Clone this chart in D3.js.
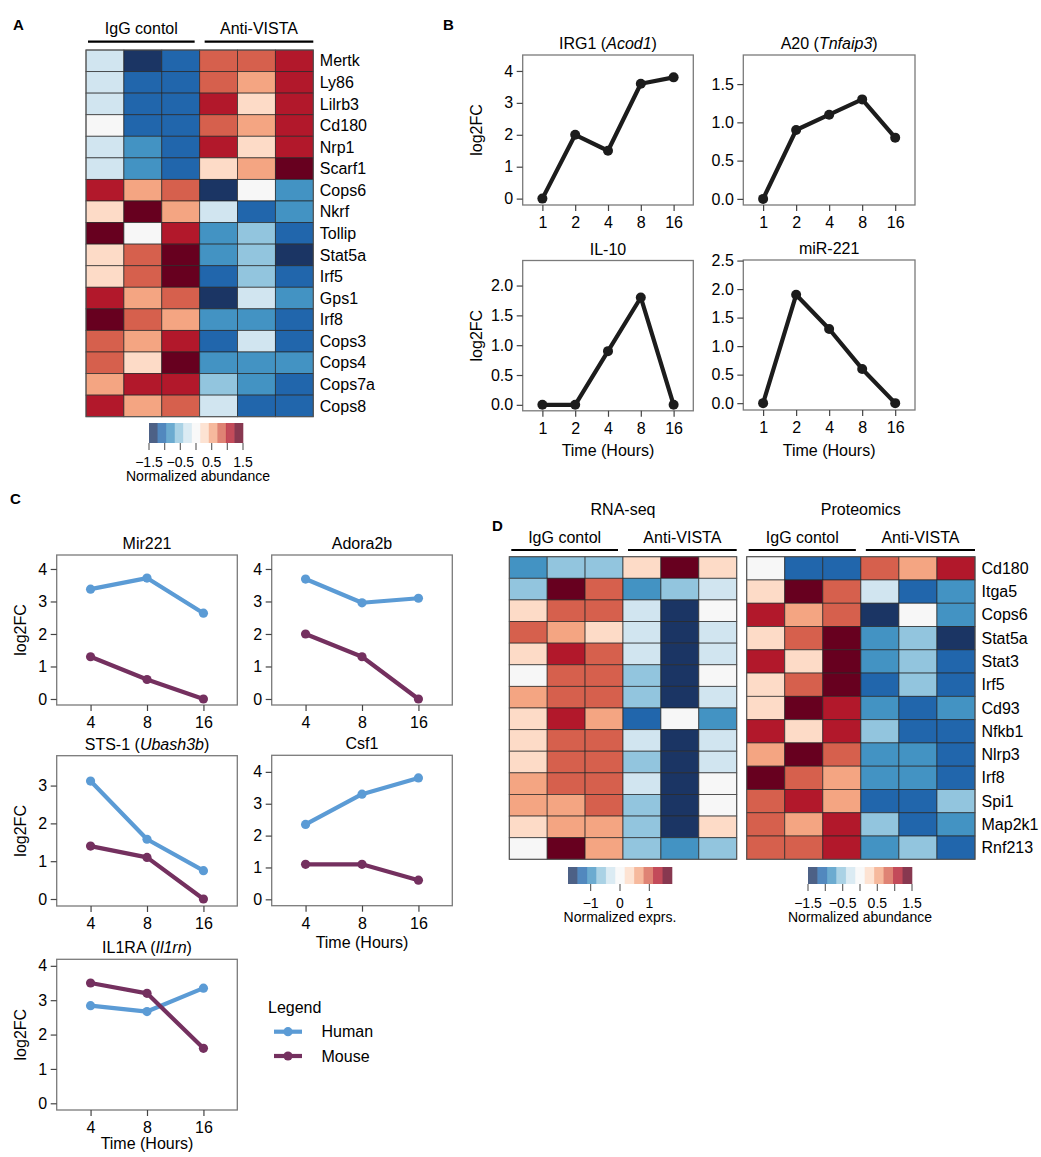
<!DOCTYPE html>
<html><head><meta charset="utf-8">
<script src="https://cdn.jsdelivr.net/npm/d3@7"></script>
<style>
body{margin:0;background:#fff}
svg{display:block}
text{font-family:"Liberation Sans",Arial,Helvetica,sans-serif;fill:#000}
</style>
</head><body>
<svg id="fig" width="1041" height="1157"></svg>
<script>
// ---------------- DATA ----------------
const samples = ["IgG 1","IgG 2","IgG 3","Anti-VISTA 1","Anti-VISTA 2","Anti-VISTA 3"];
const groupNames = ["IgG contol","Anti-VISTA"];
const palette = ["#1b3564","#2166ac","#4393c3","#92c5de","#d1e5f0","#f7f7f7","#fddbc7","#f4a582","#d6604d","#b2182b","#67001f"];

// Panel A (normalized abundance)
const genesA = ["Mertk","Ly86","Lilrb3","Cd180","Nrp1","Scarf1","Cops6","Nkrf","Tollip","Stat5a","Irf5","Gps1","Irf8","Cops3","Cops4","Cops7a","Cops8"];
const valuesA = [
  [-0.3,-1.4,-1.1,0.8,0.8,1.1],
  [-0.3,-1.1,-1.1,0.8,0.55,1.1],
  [-0.3,-1.1,-1.1,1.1,0.3,1.1],
  [0,-1.1,-1.1,0.8,0.55,1.1],
  [-0.3,-0.8,-1.1,1.1,0.3,1.1],
  [-0.3,-0.8,-1.1,0.3,0.55,1.4],
  [1.1,0.55,0.8,-1.4,0,-0.8],
  [0.3,1.4,0.55,-0.3,-1.1,-0.8],
  [1.4,0,1.1,-0.8,-0.55,-1.1],
  [0.3,0.8,1.4,-0.8,-0.55,-1.4],
  [0.3,0.8,1.4,-1.1,-0.55,-1.1],
  [1.1,0.55,0.8,-1.4,-0.3,-0.8],
  [1.4,0.8,0.55,-0.8,-0.8,-1.1],
  [0.8,0.55,1.1,-1.1,-0.3,-1.1],
  [0.8,0.3,1.4,-0.8,-0.8,-0.8],
  [0.55,1.1,1.1,-0.55,-0.8,-1.1],
  [1.1,0.55,0.8,-0.3,-1.1,-1.1]
];
const abundanceTicks = [-1.5,-1,-0.5,0,0.5,1,1.5];
const abundanceLabels = [-1.5,-0.5,0.5,1.5];

// Panel D RNA-seq (normalized exprs.)
const valuesRNA = [
  [-1.0,-0.65,-0.65,0.3,1.6,0.3],
  [-0.65,1.6,1.0,-1.0,-0.65,-0.3],
  [0.3,1.0,1.0,-0.3,-1.6,0],
  [1.0,0.65,0.3,-0.3,-1.6,-0.3],
  [0.3,1.3,1.0,-0.3,-1.6,-0.3],
  [0,1.0,1.0,-0.65,-1.6,0],
  [0.65,1.0,1.0,-0.65,-1.6,-0.3],
  [0.3,1.3,0.65,-1.3,0,-1.0],
  [0.3,1.0,1.0,-0.3,-1.6,-0.3],
  [0.3,1.0,1.0,-0.65,-1.6,-0.3],
  [0.65,1.0,1.0,-0.3,-1.6,0],
  [0.65,0.65,1.0,-0.65,-1.6,0],
  [0.3,0.65,0.65,-0.65,-1.6,0.3],
  [0,1.6,0.65,-0.65,-1.0,-0.65]
];
const exprsTicks = [-1,0,1];

// Panel D Proteomics
const genesProt = ["Cd180","Itga5","Cops6","Stat5a","Stat3","Irf5","Cd93","Nfkb1","Nlrp3","Irf8","Spi1","Map2k1","Rnf213"];
const valuesProt = [
  [0,-1.1,-1.1,0.8,0.55,1.1],
  [0.3,1.4,0.8,-0.3,-1.1,-0.8],
  [1.1,0.55,0.8,-1.4,0,-0.8],
  [0.3,0.8,1.4,-0.8,-0.55,-1.4],
  [1.1,0.3,1.4,-0.8,-0.55,-1.1],
  [0.3,0.8,1.4,-1.1,-0.55,-1.1],
  [0.3,1.4,1.1,-0.8,-1.1,-0.8],
  [1.1,0.3,1.1,-0.55,-1.1,-1.1],
  [0.55,1.4,0.8,-0.8,-0.8,-1.1],
  [1.4,0.8,0.55,-0.8,-0.8,-1.1],
  [0.8,1.1,0.55,-1.1,-1.1,-0.55],
  [0.8,0.55,1.1,-0.55,-1.1,-0.8],
  [0.8,0.8,1.1,-0.8,-0.55,-1.1]
];

// Panel B time courses
const timesB = ["1","2","4","8","16"];
const irg1 = [0,2,1.5,3.6,3.8];
const a20 = [0,0.9,1.1,1.3,0.8];
const il10 = [0,0,0.9,1.8,0];
const mir221B = [0,1.9,1.3,0.6,0];

// Panel C human vs mouse
const timesC = ["4","8","16"];
const speciesNames = ["Human","Mouse"];
const speciesColors = ["#5b9bd5","#74305f"];
const mir221Human = [3.38,3.72,2.64];
const mir221Mouse = [1.3,0.6,0];
const adora2bHuman = [3.69,2.96,3.1];
const adora2bMouse = [2.0,1.3,0];
const sts1Human = [3.12,1.58,0.75];
const sts1Mouse = [1.4,1.1,0];
const csf1Human = [2.35,3.3,3.81];
const csf1Mouse = [1.1,1.1,0.6];
const il1raHuman = [2.84,2.67,3.35];
const il1raMouse = [3.5,3.2,1.6];

// ---------------- DRAWING ----------------
const svg = d3.select("#fig");
const FS = 16;

function panelLabel(t, x, y){
  svg.append("text").attr("x",x).attr("y",y).attr("font-size",15).attr("font-weight","bold").text(t);
}

function richText(sel, parts){
  parts.forEach(p=>{
    const ts = sel.append("tspan").text(p[0]);
    if(p[1]) ts.attr("font-style","italic");
  });
}

function heatmap(o){
  const g = svg.append("g");
  const x = d3.scaleBand().domain(samples).range([o.left, o.right]);
  const rows = d3.range(o.vals.length);
  const y = d3.scaleBand().domain(rows).range([o.top, o.bottom]);
  const color = d3.scaleQuantize().domain(o.domain).range(palette);
  rows.forEach(r=>{
    samples.forEach((s,c)=>{
      g.append("rect").attr("x",x(s)).attr("y",y(r))
        .attr("width",x.bandwidth()).attr("height",y.bandwidth())
        .attr("fill",color(o.vals[r][c]))
        .attr("stroke","#262626").attr("stroke-opacity",0.75).attr("stroke-width",0.9);
    });
  });
  g.append("rect").attr("x",o.left).attr("y",o.top).attr("width",o.right-o.left).attr("height",o.bottom-o.top)
    .attr("fill","none").attr("stroke","#555").attr("stroke-width",1);
  if(o.labels){
    o.labels.forEach((l,r)=>{
      g.append("text").attr("x",o.right+6.5).attr("y",y(r)+y.bandwidth()/2).attr("dy","0.35em")
        .attr("font-size",FS).text(l);
    });
  }
  // group headers
  const bw = x.bandwidth();
  const grp = [
    [x(samples[0])+2, x(samples[2])+bw-5],
    [x(samples[3])+5, x(samples[5])+bw]
  ];
  grp.forEach((gx,i)=>{
    g.append("line").attr("x1",gx[0]).attr("x2",gx[1]).attr("y1",o.top-o.lineOff).attr("y2",o.top-o.lineOff)
      .attr("stroke","#000").attr("stroke-width",2.2);
    g.append("text").attr("x",(gx[0]+gx[1])/2).attr("y",o.top-o.textOff).attr("text-anchor","middle")
      .attr("font-size",FS).text(groupNames[i]);
  });
  if(o.title){
    g.append("text").attr("x",(o.left+o.right)/2).attr("y",o.top-42).attr("text-anchor","middle")
      .attr("font-size",FS).text(o.title);
  }
}

function colorLegend(o){
  const g = svg.append("g");
  const x = d3.scaleLinear().domain(o.domain).range([o.x0,o.x1]);
  const n = palette.length;
  const step = (o.domain[1]-o.domain[0])/n;
  palette.forEach((c,i)=>{
    const a = o.domain[0]+i*step;
    g.append("rect").attr("x",x(a)).attr("y",o.y0).attr("width",x(a+step)-x(a)+0.3).attr("height",o.y1-o.y0)
      .attr("fill",c).attr("fill-opacity",0.78);
  });
  o.ticks.forEach(t=>{
    g.append("line").attr("x1",x(t)).attr("x2",x(t)).attr("y1",o.y1).attr("y2",o.y1+7)
      .attr("stroke","#666").attr("stroke-width",1.2);
  });
  const fmt = o.fmt;
  o.labels.forEach(t=>{
    g.append("text").attr("x",x(t)).attr("y",o.y1+24).attr("text-anchor","middle").attr("font-size",14).text(fmt(t));
  });
  g.append("text").attr("x",(o.x0+o.x1)/2+o.titleShift).attr("y",o.y1+38).attr("text-anchor","middle")
    .attr("font-size",14).text(o.title);
}

function linePlot(o){
  const g = svg.append("g");
  const x = d3.scalePoint().domain(o.cats).range([o.left,o.left+o.w]).padding(0.6);
  const y = d3.scaleLinear().domain(o.ydom).range([o.top+o.h,o.top]);
  g.append("rect").attr("x",o.left).attr("y",o.top).attr("width",o.w).attr("height",o.h)
    .attr("fill","none").attr("stroke","#7a7a7a").attr("stroke-width",1.3);
  const ya = g.append("g").attr("transform",`translate(${o.left},0)`)
    .call(d3.axisLeft(y).tickValues(o.yticks).tickFormat(o.fmt).tickSize(6).tickPadding(3.5));
  const xa = g.append("g").attr("transform",`translate(0,${o.top+o.h})`)
    .call(d3.axisBottom(x).tickSize(6).tickPadding(5.5));
  [ya,xa].forEach(a=>{
    a.select(".domain").remove();
    a.selectAll(".tick line").attr("stroke","#444").attr("stroke-width",1.2);
    a.selectAll(".tick text").attr("font-size",FS).attr("fill","#000")
      .attr("font-family",'"Liberation Sans",Arial,Helvetica,sans-serif');
  });
  const t = g.append("text").attr("x",o.left+o.w/2).attr("y",o.top-6).attr("text-anchor","middle").attr("font-size",FS);
  richText(t,o.title);
  if(o.ylabX!==undefined){
    g.append("text").attr("transform",`translate(${o.ylabX},${o.top+o.h/2}) rotate(-90)`)
      .attr("text-anchor","middle").attr("dy","0.35em").attr("font-size",FS).text("log2FC");
  }
  if(o.xTitleY!==undefined){
    g.append("text").attr("x",o.left+o.w/2).attr("y",o.xTitleY).attr("text-anchor","middle")
      .attr("font-size",FS).text("Time (Hours)");
  }
  const line = d3.line().x((d,i)=>x(o.cats[i])).y(d=>y(d));
  o.series.forEach(s=>{
    g.append("path").datum(s.values).attr("d",line).attr("fill","none")
      .attr("stroke",s.color).attr("stroke-width",4.2).attr("stroke-linejoin","round").attr("stroke-linecap","round");
    s.values.forEach((v,i)=>{
      g.append("circle").attr("cx",x(o.cats[i])).attr("cy",y(v)).attr("r",s.r).attr("fill",s.color);
    });
  });
}

// ---- Panel A ----
panelLabel("A",13,30);
heatmap({left:86,right:313.3,top:50,bottom:416.7,vals:valuesA,labels:genesA,domain:[-1.5,1.5],lineOff:8.3,textOff:16});
colorLegend({x0:149,x1:243,y0:423,y1:443,domain:[-1.5,1.5],ticks:abundanceTicks,labels:abundanceLabels,
  fmt:d3.format(".1f"),title:"Normalized abundance",titleShift:2});

// ---- Panel B ----
panelLabel("B",443,30);
const black = "#1c1c1c";
linePlot({left:522.7,top:55,w:170.6,h:150,cats:timesB,ydom:[-0.2,4.5],yticks:[0,1,2,3,4],fmt:d3.format("d"),
  title:[["IRG1 (",false],["Acod1",true],[")",false]],ylabX:476.7,series:[{values:irg1,color:black,r:5}]});
linePlot({left:743.3,top:55,w:171.7,h:150,cats:timesB,ydom:[-0.08,1.88],yticks:[0,0.5,1,1.5],fmt:d3.format(".1f"),
  title:[["A20 (",false],["Tnfaip3",true],[")",false]],series:[{values:a20,color:black,r:5}]});
linePlot({left:522.7,top:260.5,w:170.6,h:150.3,cats:timesB,ydom:[-0.1,2.42],yticks:[0,0.5,1,1.5,2],fmt:d3.format(".1f"),
  title:[["IL-10",false]],ylabX:476.7,xTitleY:456,series:[{values:il10,color:black,r:5}]});
linePlot({left:743.3,top:260,w:171.7,h:150,cats:timesB,ydom:[-0.12,2.51],yticks:[0,0.5,1,1.5,2,2.5],fmt:d3.format(".1f"),
  title:[["miR-221",false]],xTitleY:456,series:[{values:mir221B,color:black,r:5}]});

// ---- Panel C ----
panelLabel("C",10,504);
function sp(h,m){return [{values:h,color:speciesColors[0],r:4.6},{values:m,color:speciesColors[1],r:4.6}];}
linePlot({left:56.7,top:555,w:180.6,h:150,cats:timesC,ydom:[-0.185,4.43],yticks:[0,1,2,3,4],fmt:d3.format("d"),
  title:[["Mir221",false]],ylabX:20,series:sp(mir221Human,mir221Mouse)});
linePlot({left:271.7,top:555,w:180.6,h:150,cats:timesC,ydom:[-0.185,4.43],yticks:[0,1,2,3,4],fmt:d3.format("d"),
  title:[["Adora2b",false]],series:sp(adora2bHuman,adora2bMouse)});
linePlot({left:56.7,top:755.7,w:180.6,h:150.3,cats:timesC,ydom:[-0.185,3.79],yticks:[0,1,2,3],fmt:d3.format("d"),
  title:[["STS-1 (",false],["Ubash3b",true],[")",false]],ylabX:20,series:sp(sts1Human,sts1Mouse)});
linePlot({left:271.7,top:755.3,w:180.6,h:150.4,cats:timesC,ydom:[-0.2,4.52],yticks:[0,1,2,3,4],fmt:d3.format("d"),
  title:[["Csf1",false]],xTitleY:948,series:sp(csf1Human,csf1Mouse)});
linePlot({left:56.7,top:959.3,w:180.6,h:150.7,cats:timesC,ydom:[-0.195,4.19],yticks:[0,1,2,3,4],fmt:d3.format("d"),
  title:[["IL1RA (",false],["Il1rn",true],[")",false]],ylabX:20,xTitleY:1149,series:sp(il1raHuman,il1raMouse)});

// legend C
const lg = svg.append("g");
lg.append("text").attr("x",268).attr("y",1013).attr("font-size",FS).text("Legend");
speciesNames.forEach((n,i)=>{
  const yy = 1031.7 + i*24.3;
  lg.append("line").attr("x1",274).attr("x2",302).attr("y1",yy).attr("y2",yy)
    .attr("stroke",speciesColors[i]).attr("stroke-width",4.2);
  lg.append("circle").attr("cx",288).attr("cy",yy).attr("r",4.6).attr("fill",speciesColors[i]);
  lg.append("text").attr("x",321.5).attr("y",yy).attr("dy","0.35em").attr("font-size",FS).text(n);
});

// ---- Panel D ----
panelLabel("D",492,531);
heatmap({left:509.3,right:736.7,top:556.7,bottom:859.3,vals:valuesRNA,domain:[-1.77,1.77],title:"RNA-seq",lineOff:6.7,textOff:13.5});
heatmap({left:746.7,right:975,top:556.7,bottom:859.3,vals:valuesProt,labels:genesProt,domain:[-1.5,1.5],title:"Proteomics",lineOff:6.7,textOff:13.5});
colorLegend({x0:568,x1:672,y0:867,y1:884,domain:[-1.77,1.77],ticks:exprsTicks,labels:exprsTicks,
  fmt:d3.format("d"),title:"Normalized exprs.",titleShift:0});
colorLegend({x0:808,x1:912,y0:867,y1:884,domain:[-1.5,1.5],ticks:abundanceTicks,labels:abundanceLabels,
  fmt:d3.format(".1f"),title:"Normalized abundance",titleShift:0});
</script>
</body></html>
